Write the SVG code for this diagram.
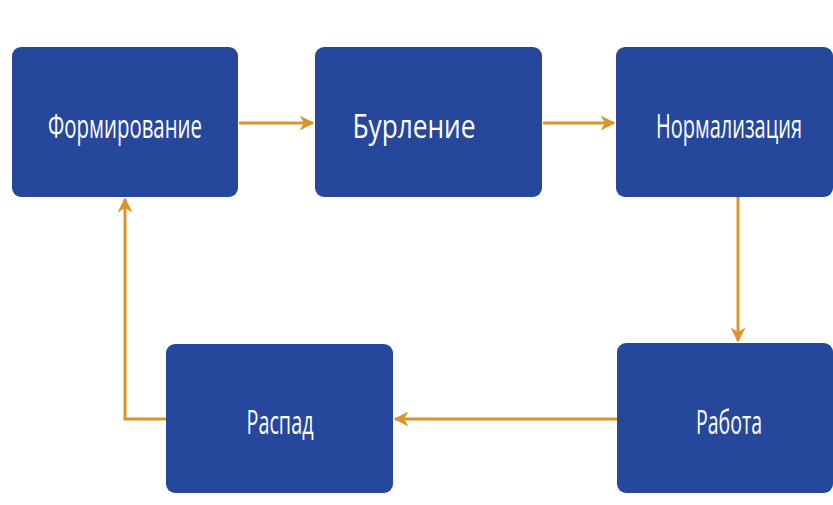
<svg xmlns="http://www.w3.org/2000/svg" width="833" height="505" viewBox="0 0 833 505">
<defs>
<style>
.box{fill:#25479c;}
.lbl{fill:#ffffff;font-family:"Open Sans","Liberation Sans",sans-serif;font-size:32px;text-anchor:middle;}
.conn{stroke:#d8962a;stroke-width:3;fill:none;}
</style>
<marker id="ah" viewBox="0 0 10 10" refX="9" refY="5" markerWidth="5" markerHeight="5" orient="auto" markerUnits="strokeWidth">
<path d="M0,0 L10,5 L0,10 L3,5 Z" fill="#d8962a"/>
</marker>
</defs>
<rect width="833" height="505" fill="#ffffff"/>
<g id="connectors">
<line class="conn" x1="239" y1="123" x2="313" y2="123" marker-end="url(#ah)"/>
<line class="conn" x1="543" y1="123" x2="614" y2="123" marker-end="url(#ah)"/>
<line class="conn" x1="738" y1="197" x2="738" y2="341" marker-end="url(#ah)"/>
<line class="conn" x1="617" y1="419" x2="395" y2="419" marker-end="url(#ah)"/>
<polyline class="conn" points="166,419 125,419 125,199" marker-end="url(#ah)"/>
</g>
<g id="n1"><rect class="box" x="12" y="47" width="226" height="150" rx="9"/><text class="lbl" x="125" y="138" textLength="154" lengthAdjust="spacingAndGlyphs">Формирование</text></g>
<g id="n2"><rect class="box" x="315" y="47" width="227" height="150" rx="9"/><text class="lbl" x="414" y="138" textLength="123" lengthAdjust="spacingAndGlyphs">Бурление</text></g>
<g id="n3"><rect class="box" x="616" y="47" width="217" height="150" rx="9"/><text class="lbl" x="729" y="138" textLength="146" lengthAdjust="spacingAndGlyphs">Нормализация</text></g>
<g id="n4"><rect class="box" x="617" y="343" width="216" height="150" rx="9"/><text class="lbl" x="729" y="434" textLength="66" lengthAdjust="spacingAndGlyphs">Работа</text></g>
<g id="n5"><rect class="box" x="166" y="344" width="227" height="149" rx="9"/><text class="lbl" x="280" y="434" textLength="67" lengthAdjust="spacingAndGlyphs">Распад</text></g>
</svg>
